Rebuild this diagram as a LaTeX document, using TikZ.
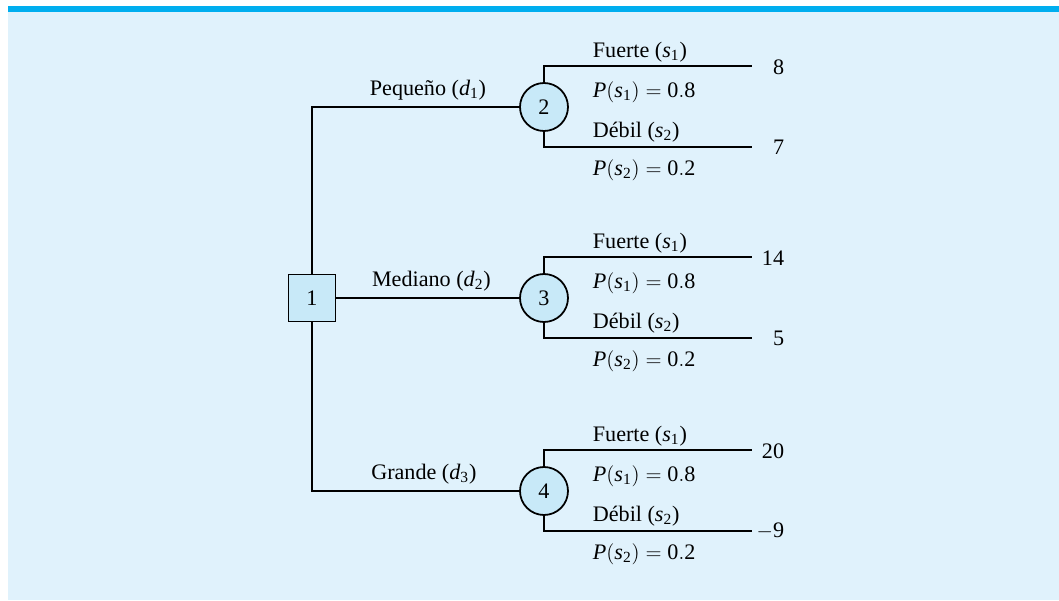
\documentclass[tikz,border=0pt]{standalone}
\usepackage{fontspec}
\setmainfont{Liberation Serif}
\usetikzlibrary{positioning, calc}
\definecolor{barblue}{HTML}{00AEEF}
\definecolor{panelblue}{HTML}{E0F2FC}
\definecolor{nodeblue}{HTML}{C8E9F8}
\newcommand{\pst}[2]{$\mathit{P}(\mathit{s}_{\mathrm{#1}}) = \mathrm{#2}$}
\newcommand{\sv}[1]{($\mathit{s}_{\mathrm{#1}}$)}
\newcommand{\dv}[1]{($\mathit{d}_{\mathrm{#1}}$)}

\begin{document}
\begin{tikzpicture}[
    font=\fontsize{12.6}{15}\selectfont,
    line width=1pt,
    % Styles
    decision/.style={draw, rectangle, minimum size=0.94cm, fill=nodeblue},
    chance/.style={draw, circle, minimum size=0.96cm, inner sep=0pt, fill=nodeblue},
    label/.style={anchor=west, inner sep=0pt},
    payoff/.style={anchor=east, inner sep=0pt}
]
% Panel and top bar
\useasboundingbox (0,0) rectangle (21.18,12);
\fill[panelblue] (0.16,0) rectangle (21.18,11.76);
\fill[barblue] (0.16,11.76) rectangle (21.18,11.88);

% 1. Decision node
\node[decision] (dec) at (6.24,6.04) {1};

% 2. Chance nodes
\node[chance] (small) at (10.88,9.86) {2};
\node[chance] (medium) at (10.88,6.04) {3};
\node[chance] (large) at (10.88,2.18) {4};

\draw (dec) |- node[pos=0.78, above] {Pequeño \dv{1}} (small);
\draw (dec) -- node[pos=0.52, above] {Mediano \dv{2}} (medium);
\draw (dec) |- node[pos=0.77, above] {Grande \dv{3}} (large);

% 3. Branches of node 2
\coordinate (smallhi) at ($(small)+(4.16,0.82)$);
\coordinate (smalllo) at ($(small)+(4.16,-0.80)$);
\draw (small) |- (smallhi);
\draw (small) |- (smalllo);
\node[label] (smallf) at ($(small)+(0.96,1.10)$) {Fuerte \sv{1}};
\node[label] (smallp1) at ($(small)+(0.96,0.30)$) {\pst{1}{0.8}};
\node[label] (smalld) at ($(small)+(0.96,-0.50)$) {Débil \sv{2}};
\node[label] (smallp2) at ($(small)+(0.96,-1.26)$) {\pst{2}{0.2}};
\node[payoff] (smallv1) at ($(small)+(4.82,0.80)$) {8};
\node[payoff] (smallv2) at ($(small)+(4.82,-0.80)$) {7};

% 4. Branches of node 3
\coordinate (mediumhi) at ($(medium)+(4.16,0.82)$);
\coordinate (mediumlo) at ($(medium)+(4.16,-0.80)$);
\draw (medium) |- (mediumhi);
\draw (medium) |- (mediumlo);
\node[label] (mediumf) at ($(medium)+(0.96,1.10)$) {Fuerte \sv{1}};
\node[label] (mediump1) at ($(medium)+(0.96,0.30)$) {\pst{1}{0.8}};
\node[label] (mediumd) at ($(medium)+(0.96,-0.50)$) {Débil \sv{2}};
\node[label] (mediump2) at ($(medium)+(0.96,-1.26)$) {\pst{2}{0.2}};
\node[payoff] (mediumv1) at ($(medium)+(4.82,0.80)$) {14};
\node[payoff] (mediumv2) at ($(medium)+(4.82,-0.80)$) {5};

% 5. Branches of node 4
\coordinate (largehi) at ($(large)+(4.16,0.82)$);
\coordinate (largelo) at ($(large)+(4.16,-0.80)$);
\draw (large) |- (largehi);
\draw (large) |- (largelo);
\node[label] (largef) at ($(large)+(0.96,1.10)$) {Fuerte \sv{1}};
\node[label] (largep1) at ($(large)+(0.96,0.30)$) {\pst{1}{0.8}};
\node[label] (larged) at ($(large)+(0.96,-0.50)$) {Débil \sv{2}};
\node[label] (largep2) at ($(large)+(0.96,-1.26)$) {\pst{2}{0.2}};
\node[payoff] (largev1) at ($(large)+(4.82,0.80)$) {20};
\node[payoff] (largev2) at ($(large)+(4.82,-0.80)$) {$-$9};

\end{tikzpicture}
\end{document}
